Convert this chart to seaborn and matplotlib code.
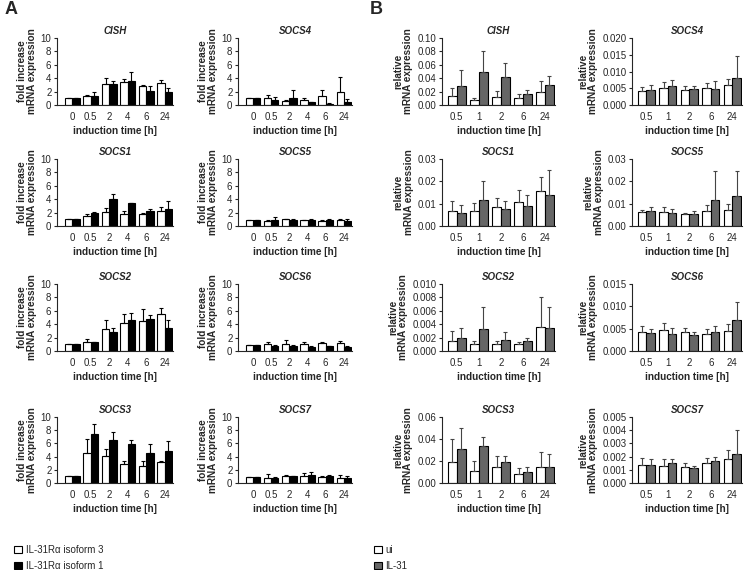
import pandas as pd
import matplotlib
matplotlib.use("Agg")
import matplotlib.pyplot as plt
import seaborn as sns
from matplotlib.patches import Patch

# ---- panel A: fold increase, IL-31RA isoform 3 (white) vs isoform 1 (black)
times_a = ["0", "0.5", "2", "4", "6", "24"]
genes = ["CISH", "SOCS4", "SOCS1", "SOCS5", "SOCS2", "SOCS6", "SOCS3", "SOCS7"]

iso3_mean = {
    "CISH": [1, 1.4, 3.1, 3.4, 2.9, 3.3],
    "SOCS4": [1, 1.1, 0.6, 0.8, 1.3, 2.0],
    "SOCS1": [1, 1.5, 2.1, 1.8, 1.8, 2.2],
    "SOCS5": [0.95, 0.8, 1.0, 0.9, 0.8, 0.9],
    "SOCS2": [1, 1.4, 3.3, 4.2, 4.5, 5.5],
    "SOCS6": [0.95, 1.0, 1.1, 1.1, 1.2, 1.2],
    "SOCS3": [1, 4.5, 4.1, 2.9, 2.6, 3.2],
    "SOCS7": [0.95, 0.8, 1.0, 1.1, 0.9, 0.8],
}
iso3_err = {
    "CISH": [0, 0.1, 0.9, 0.5, 0.1, 0.5],
    "SOCS4": [0, 0.4, 0.2, 0.3, 1.0, 2.2],
    "SOCS1": [0, 0.3, 0.6, 0.4, 0.2, 0.7],
    "SOCS5": [0, 0.1, 0.1, 0.05, 0.1, 0.1],
    "SOCS2": [0, 0.4, 1.3, 1.3, 1.7, 0.9],
    "SOCS6": [0, 0.4, 0.6, 0.3, 0.1, 0.3],
    "SOCS3": [0, 2.2, 1.1, 0.4, 0.8, 0.2],
    "SOCS7": [0, 0.5, 0.2, 0.4, 0.1, 0.4],
}
iso1_mean = {
    "CISH": [1, 1.4, 3.2, 3.6, 2.1, 1.9],
    "SOCS4": [1, 0.7, 1.1, 0.4, 0.2, 0.5],
    "SOCS1": [1, 2.0, 4.1, 3.4, 2.3, 2.6],
    "SOCS5": [0.95, 0.9, 0.9, 0.9, 0.9, 0.8],
    "SOCS2": [1, 1.3, 2.8, 4.7, 4.8, 3.5],
    "SOCS6": [0.95, 0.8, 0.8, 0.6, 0.7, 0.6],
    "SOCS3": [1, 7.5, 6.5, 5.9, 4.6, 4.9],
    "SOCS7": [0.95, 0.8, 1.0, 1.2, 1.0, 0.8],
}
iso1_err = {
    "CISH": [0, 0.6, 0.4, 1.3, 0.8, 0.7],
    "SOCS4": [0, 0.5, 1.1, 0.1, 0.1, 0.4],
    "SOCS1": [0, 0.1, 0.7, 0.1, 0.3, 1.1],
    "SOCS5": [0, 0.4, 0.1, 0.1, 0.1, 0.2],
    "SOCS2": [0, 0.1, 0.6, 0.9, 0.5, 1.1],
    "SOCS6": [0, 0.1, 0.1, 0.1, 0.1, 0.2],
    "SOCS3": [0, 1.5, 1.2, 0.6, 1.3, 1.5],
    "SOCS7": [0, 0.05, 0.1, 0.4, 0.2, 0.2],
}

# ---- panel B: relative expression, ui (white) vs IL-31 (grey)
times_b = ["0.5", "1", "2", "6", "24"]
ui_mean = {
    "CISH": [0.013, 0.007, 0.012, 0.011, 0.020],
    "SOCS4": [0.0042, 0.0050, 0.0046, 0.0050, 0.0060],
    "SOCS1": [0.0068, 0.0068, 0.0083, 0.0107, 0.0158],
    "SOCS5": [0.0062, 0.0063, 0.0054, 0.0068, 0.0072],
    "SOCS2": [0.0015, 0.0010, 0.0010, 0.0010, 0.0036],
    "SOCS6": [0.0042, 0.0048, 0.0042, 0.0038, 0.0045],
    "SOCS3": [0.019, 0.011, 0.015, 0.008, 0.015],
    "SOCS7": [0.0014, 0.0013, 0.0012, 0.0015, 0.0018],
}
ui_err = {
    "CISH": [0.013, 0.004, 0.009, 0.005, 0.016],
    "SOCS4": [0.0012, 0.0019, 0.0010, 0.0015, 0.0018],
    "SOCS1": [0.0042, 0.0037, 0.0042, 0.0055, 0.0060],
    "SOCS5": [0.0010, 0.0022, 0.0003, 0.0026, 0.0026],
    "SOCS2": [0.0015, 0.0005, 0.0005, 0.0004, 0.0044],
    "SOCS6": [0.0013, 0.0014, 0.0010, 0.0012, 0.0015],
    "SOCS3": [0.021, 0.009, 0.010, 0.006, 0.013],
    "SOCS7": [0.0005, 0.0005, 0.0003, 0.0004, 0.0007],
}
il31_mean = {
    "CISH": [0.029, 0.049, 0.042, 0.017, 0.030],
    "SOCS4": [0.0045, 0.0056, 0.0048, 0.0047, 0.0081],
    "SOCS1": [0.0060, 0.0117, 0.0077, 0.0089, 0.0140],
    "SOCS5": [0.0068, 0.0060, 0.0055, 0.0115, 0.0135],
    "SOCS2": [0.0020, 0.0033, 0.0016, 0.0015, 0.0035],
    "SOCS6": [0.0040, 0.0038, 0.0035, 0.0042, 0.0070],
    "SOCS3": [0.031, 0.034, 0.019, 0.010, 0.015],
    "SOCS7": [0.0014, 0.0015, 0.0011, 0.0017, 0.0022],
}
il31_err = {
    "CISH": [0.023, 0.032, 0.020, 0.005, 0.014],
    "SOCS4": [0.0015, 0.0019, 0.0010, 0.0024, 0.0064],
    "SOCS1": [0.0035, 0.0086, 0.0033, 0.0051, 0.0112],
    "SOCS5": [0.0017, 0.0014, 0.0013, 0.0133, 0.0113],
    "SOCS2": [0.0015, 0.0032, 0.0012, 0.0005, 0.0030],
    "SOCS6": [0.0010, 0.0014, 0.0007, 0.0013, 0.0040],
    "SOCS3": [0.019, 0.008, 0.006, 0.005, 0.011],
    "SOCS7": [0.0004, 0.0003, 0.0002, 0.0003, 0.0018],
}
# y axis (max, step, decimals) for panel B
b_yaxis = {
    "CISH": (0.10, 0.02, 2), "SOCS4": (0.020, 0.005, 3),
    "SOCS1": (0.03, 0.01, 2), "SOCS5": (0.03, 0.01, 2),
    "SOCS2": (0.010, 0.002, 3), "SOCS6": (0.015, 0.005, 3),
    "SOCS3": (0.06, 0.02, 2), "SOCS7": (0.005, 0.001, 3),
}

sns.set_style("ticks")
plt.rcParams["font.family"] = ["Liberation Sans", "DejaVu Sans"]
plt.rcParams["axes.linewidth"] = 0.8

W, H = 745, 570
fig = plt.figure(figsize=(W / 100, H / 100), dpi=100)

col_px = {"A": [(57, 173), (238, 352)], "B": [(442, 555), (632, 742)]}
row_px = [(38, 105), (159, 226), (284, 351), (417, 483)]


def make_ax(x0, x1, y0, y1):
    return fig.add_axes([x0 / W, 1 - y1 / H, (x1 - x0) / W, (y1 - y0) / H])


def panel(ax, times, groups, means, errs, colors, ecolor, ylabel):
    rows = []
    for g, m in zip(groups, means):
        for t, v in zip(times, m):
            rows.append({"time": t, "group": g, "value": v})
    df = pd.DataFrame(rows)
    sns.barplot(data=df, x="time", y="value", hue="group", order=times,
                hue_order=groups, palette=dict(zip(groups, colors)),
                edgecolor="black", linewidth=0.8, errorbar=None,
                width=0.8, legend=False, ax=ax)
    for cont, e in zip(ax.containers, errs):
        xs = [b.get_x() + b.get_width() / 2 for b in cont]
        hs = [b.get_height() for b in cont]
        ax.errorbar(xs, hs, yerr=[[0] * len(e), e], fmt="none", ecolor=ecolor,
                    elinewidth=0.8, capsize=1.6, capthick=0.8, zorder=1)
    sns.despine(ax=ax)
    ax.set_xlabel("induction time [h]", fontsize=7.2, fontweight="bold", labelpad=3)
    ax.set_ylabel(ylabel, fontsize=7.2, fontweight="bold", labelpad=3,
                  linespacing=1.0)
    ax.tick_params(axis="x", length=0, labelsize=7, pad=5)
    ax.tick_params(axis="y", length=2.5, width=0.8, labelsize=7, pad=1.5)


for i, gene in enumerate(genes):
    r, c = divmod(i, 2)
    # panel A
    ax = make_ax(*col_px["A"][c], *row_px[r])
    panel(ax, times_a, ["IL-31R\u03b1 isoform 3", "IL-31R\u03b1 isoform 1"],
          [iso3_mean[gene], iso1_mean[gene]], [iso3_err[gene], iso1_err[gene]],
          ["white", "black"], "black", "fold increase\nmRNA expression")
    ax.set_ylim(0, 10)
    ax.set_yticks(range(0, 11, 2))
    ax.set_xlim(-0.83, 5.45)
    ax.set_title(gene, fontsize=7, fontweight="bold", fontstyle="italic", pad=3)

    # panel B
    ax = make_ax(*col_px["B"][c], *row_px[r])
    panel(ax, times_b, ["ui", "IL-31"],
          [ui_mean[gene], il31_mean[gene]], [ui_err[gene], il31_err[gene]],
          ["white", "#666666"], "#444444", "relative\nmRNA expression")
    ymax, step, dec = b_yaxis[gene]
    n = int(round(ymax / step))
    ticks = [k * step for k in range(n + 1)]
    ax.set_ylim(0, ymax)
    ax.set_yticks(ticks)
    ax.set_yticklabels([f"{t:.{dec}f}" for t in ticks])
    ax.set_xlim(-0.67, 4.45)
    ax.set_title(gene, fontsize=7, fontweight="bold", fontstyle="italic", pad=3)

fig.text(5 / W, 1 - 10 / H, "A", fontsize=13, fontweight="bold", va="center")
fig.text(370 / W, 1 - 10 / H, "B", fontsize=13, fontweight="bold", va="center")

leg_kw = dict(frameon=False, fontsize=7, handlelength=0.8, handleheight=0.8,
              handletextpad=0.4, labelspacing=0.6, borderaxespad=0,
              loc="upper left")
fig.legend(handles=[Patch(facecolor="white", edgecolor="black", lw=0.8),
                    Patch(facecolor="black", edgecolor="black", lw=0.8)],
           labels=["IL-31R\u03b1 isoform 3", "IL-31R\u03b1 isoform 1"],
           bbox_to_anchor=(10 / W, 1 - 541 / H), **leg_kw)
fig.legend(handles=[Patch(facecolor="white", edgecolor="black", lw=0.8),
                    Patch(facecolor="#666666", edgecolor="black", lw=0.8)],
           labels=["ui", "IL-31"],
           bbox_to_anchor=(370 / W, 1 - 541 / H), **leg_kw)

fig.savefig("out.png", dpi=100, facecolor="white")
